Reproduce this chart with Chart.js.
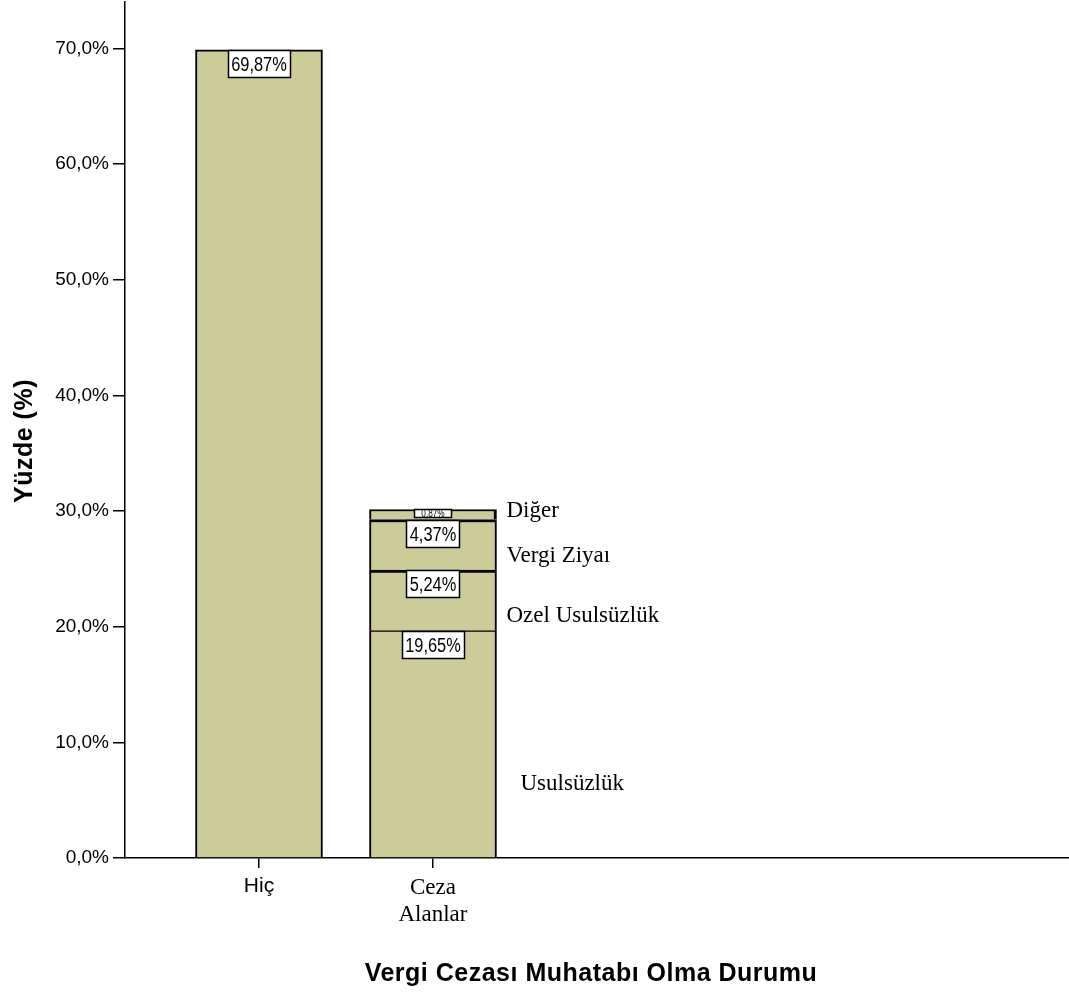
<!DOCTYPE html>
<html>
<head>
<meta charset="utf-8">
<script src="https://cdn.jsdelivr.net/npm/chart.js@4.4.1/dist/chart.umd.min.js"></script>
<style>
  html, body { margin: 0; padding: 0; background: #ffffff; }
  canvas { display: block; }
</style>
</head>
<body>
<canvas id="chart" width="1069" height="997"></canvas>
<script>
// Categories on the x axis
const categories = ['Hiç', ['Ceza', 'Alanlar']];

// Percentages per series (one entry per category)
const hicValues            = [69.87, null];
const usulsuzlukValues     = [null, 19.65];
const ozelUsulsuzlukValues = [null, 5.24];
const vergiZiyaiValues     = [null, 4.37];
const digerValues          = [null, 0.87];

// Series names written beside the stacked bar (bottom to top)
const seriesNames = ['Hiç', 'Usulsüzlük', 'Ozel Usulsüzlük', 'Vergi Ziyaı', 'Diğer'];

// Y axis tick values
const yTickValues = [0, 10, 20, 30, 40, 50, 60, 70];

const FILL = '#cccc99';
const SANS = "'Liberation Sans', Arial, sans-serif";
const SERIF = "'Liberation Serif', 'Times New Roman', serif";

const fmtPct = (v, digits) => v.toFixed(digits).replace('.', ',') + '%';

function toPoints(values) {
  return values
    .map((v, i) => (v === null ? null : { x: i + 1, y: v }))
    .filter(p => p !== null);
}

const allValues = [hicValues, usulsuzlukValues, ozelUsulsuzlukValues, vergiZiyaiValues, digerValues];

// Border widths of each segment: thicker separators between the upper segments
const segmentBorders = [
  { top: 2, left: 2, right: 2, bottom: 0 },
  { top: 1.5, left: 2, right: 2, bottom: 0 },
  { top: 3, left: 2, right: 2, bottom: 0 },
  { top: 3, left: 2, right: 2, bottom: 0 },
  { top: 2, left: 2, right: 3, bottom: 0 }
];

const datasets = allValues.map((vals, i) => ({
  label: seriesNames[i],
  data: toPoints(vals),
  backgroundColor: FILL,
  borderColor: '#000000',
  borderWidth: segmentBorders[i],
  borderSkipped: 'start',
  barThickness: 127
}));

// Boxed value labels at the top of each segment (narrow lettering)
const SQUEEZE = 0.82;
const valueBoxes = {
  id: 'valueBoxes',
  afterDatasetsDraw(chart) {
    const ctx = chart.ctx;
    ctx.save();
    chart.data.datasets.forEach((ds, di) => {
      const meta = chart.getDatasetMeta(di);
      meta.data.forEach((bar, j) => {
        const v = ds.data[j].y;
        const text = fmtPct(v, 2);
        const segH = Math.abs(bar.base - bar.y);
        ctx.font = '20px ' + SANS;
        const fullW = ctx.measureText(text).width * SQUEEZE;
        let boxW = fullW + 7;
        let boxH = 28;
        let fontSize = 20;
        if (segH < boxH) {
          boxH = Math.max(segH - 1, 6);
          fontSize = boxH + 1;
          boxW = fullW * 0.82;
        }
        const left = Math.round(bar.x - boxW / 2);
        const top = Math.round(bar.y);
        ctx.fillStyle = '#ffffff';
        ctx.fillRect(left, top, Math.round(boxW), Math.round(boxH));
        ctx.strokeStyle = '#000000';
        ctx.lineWidth = 1.5;
        ctx.strokeRect(left + 0.5, top + 0.5, Math.round(boxW) - 1, Math.round(boxH) - 1);
        ctx.save();
        ctx.beginPath();
        ctx.rect(left, top, Math.round(boxW), Math.round(boxH));
        ctx.clip();
        ctx.fillStyle = '#000000';
        ctx.font = fontSize + 'px ' + SANS;
        ctx.textAlign = 'center';
        ctx.textBaseline = 'middle';
        ctx.translate(bar.x, top + boxH / 2 + 1);
        ctx.scale(SQUEEZE, 1);
        ctx.fillText(text, 0, 0);
        ctx.restore();
      });
    });
    ctx.restore();
  }
};

// Series names to the right of the stacked bar
const labelNudges = [0, 40, 16, 11, -4];
const labelGaps = [0, 24, 10, 10, 10];
const seriesLabels = {
  id: 'seriesLabels',
  afterDatasetsDraw(chart) {
    const ctx = chart.ctx;
    ctx.save();
    ctx.fillStyle = '#000000';
    ctx.font = '23px ' + SERIF;
    ctx.textAlign = 'left';
    ctx.textBaseline = 'middle';
    chart.data.datasets.forEach((ds, di) => {
      if (di === 0) return;
      const meta = chart.getDatasetMeta(di);
      meta.data.forEach(bar => {
        const right = bar.x + bar.width / 2;
        const mid = (bar.y + bar.base) / 2;
        ctx.fillText(seriesNames[di], right + labelGaps[di], mid + labelNudges[di]);
      });
    });
    ctx.restore();
  }
};

// Axis titles
const axisTitles = {
  id: 'axisTitles',
  afterDraw(chart) {
    const ctx = chart.ctx;
    const area = chart.chartArea;
    ctx.save();
    ctx.fillStyle = '#000000';
    ctx.font = 'bold 25px ' + SANS;
    ctx.letterSpacing = '0.5px';
    ctx.textAlign = 'center';
    ctx.textBaseline = 'alphabetic';
    ctx.fillText('Vergi Cezası Muhatabı Olma Durumu', area.left + 466, 981);
    ctx.translate(32, 441);
    ctx.rotate(-Math.PI / 2);
    ctx.fillText('Yüzde (%)', 0, 0);
    ctx.restore();
  }
};

new Chart(document.getElementById('chart'), {
  type: 'bar',
  data: { datasets },
  options: {
    responsive: false,
    animation: false,
    devicePixelRatio: 1,
    layout: { padding: { top: 2, right: 0, left: 0, bottom: 0 } },
    plugins: {
      legend: { display: false },
      tooltip: { enabled: false }
    },
    scales: {
      x: {
        type: 'linear',
        stacked: true,
        offset: false,
        min: 0.23,
        max: 5.655,
        afterBuildTicks(scale) {
          scale.ticks = categories.map((c, i) => ({ value: i + 1 }));
        },
        afterFit(scale) {
          scale.height = 139;
          scale.paddingLeft = 0;
          scale.paddingRight = 0;
        },
        grid: {
          offset: false,
          drawOnChartArea: false,
          drawTicks: true,
          tickLength: 10,
          color: '#000000',
          lineWidth: 1.5
        },
        border: { display: true, color: '#000000', width: 1.5 },
        ticks: {
          color: '#000000',
          padding: 6,
          maxRotation: 0,
          autoSkip: false,
          callback: (value, index) => categories[index],
          font: ctx => (ctx.index === 0
            ? { family: SANS, size: 21, lineHeight: 1.2 }
            : { family: SERIF, size: 23, lineHeight: 1.2 })
        }
      },
      y: {
        stacked: true,
        min: 0,
        max: 74,
        afterBuildTicks(scale) {
          scale.ticks = yTickValues.map(v => ({ value: v }));
        },
        afterFit(scale) {
          scale.width = 125;
          scale.paddingTop = 0;
          scale.paddingBottom = 0;
        },
        grid: {
          drawOnChartArea: false,
          drawTicks: true,
          tickLength: 12,
          color: '#000000',
          lineWidth: 1.5
        },
        border: { display: true, color: '#000000', width: 1.5 },
        ticks: {
          color: '#000000',
          padding: 4,
          font: { family: SANS, size: 19 },
          callback: v => fmtPct(v, 1)
        }
      }
    }
  },
  plugins: [valueBoxes, seriesLabels, axisTitles]
});
</script>
</body>
</html>
